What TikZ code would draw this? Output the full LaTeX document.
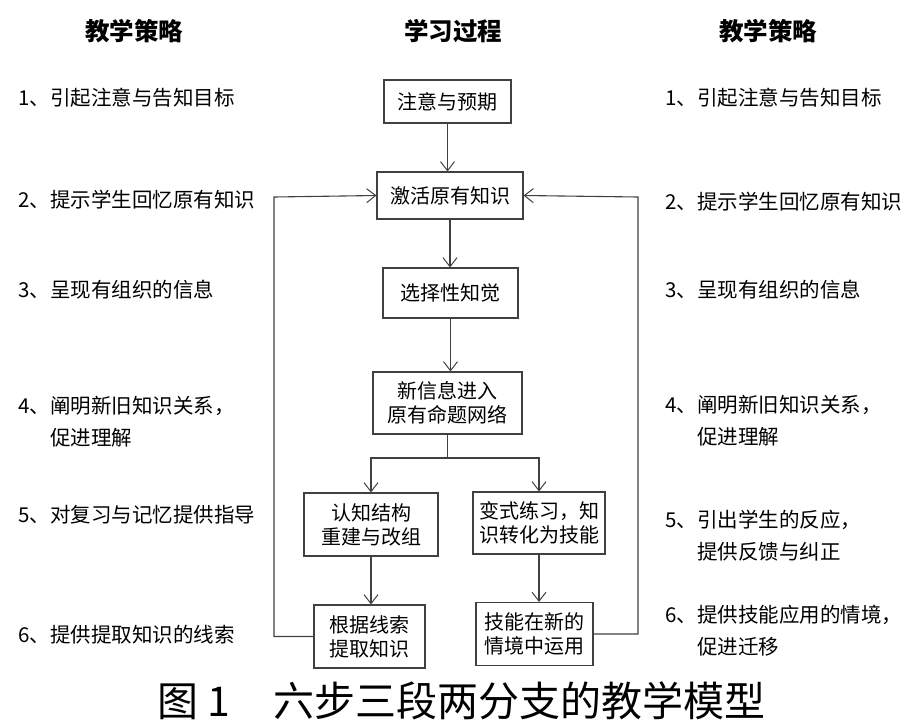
\documentclass[tikz,border=0pt]{standalone}
\usepackage{fontspec}
\setmainfont{Noto Sans CJK SC}
\usetikzlibrary{arrows.meta}

\begin{document}
\begin{tikzpicture}
[
x=1pt,y=-1pt,
stage/.style 2 args={draw=black!75,line width=1.1pt,inner sep=0pt,minimum width=#1,minimum height=#2,align=center,font=\fontsize{20}{24}\selectfont},
strat/.style={anchor=west,inner sep=0pt,align=left,font=\fontsize{20.5}{32}\selectfont},
head/.style={inner sep=0pt,font=\fontsize{24.5}{28}\selectfont\bfseries},
link/.style={draw=black!75,line width=1.1pt},
flow/.style={link,-{Straight Barb[length=9pt,width=14pt,line width=1pt]}},
]
\useasboundingbox (0,0) rectangle (911,721);

%Place the headers
\node[head] (hleft) at (134,31) {教学策略};
\node[head] (hmid) at (453,31) {学习过程};
\node[head] (hright) at (768,31) {教学策略};

%Place the stages
\node[stage={127pt}{43pt}] (attn) at (447.5,101.5) {注意与预期};
\node[stage={146pt}{47pt}] (activ) at (450,195.5) {激活原有知识};
\node[stage={135pt}{50pt}] (select) at (450.5,293) {选择性知觉};
\node[stage={149pt}{62pt}] (newinfo) at (447.5,403) {新信息进入\\原有命题网络};
\node[stage={134pt}{63pt}] (restruct) at (371,524.5) {认知结构\\重建与改组};
\node[stage={132pt}{62pt}] (practice) at (539,523) {变式练习，知\\识转化为技能};
\node[stage={111pt}{63pt}] (retrieve) at (369.5,636.5) {根据线索\\提取知识};
\node[stage={117pt}{63pt}] (apply) at (534.5,634) {技能在新的\\情境中运用};
\coordinate (split) at (447.5,458);
\coordinate (lrail) at (274,197);
\coordinate (rrail) at (638,197);

%Place the strategies
\node[strat] (l1) at (18,98) {1、引起注意与告知目标};
\node[strat] (l2) at (18,200) {2、提示学生回忆原有知识};
\node[strat] (l3) at (18,290) {3、呈现有组织的信息};
\node[strat] (l4) at (18,422) {4、阐明新旧知识关系，\\\phantom{4、}促进理解};
\node[strat] (l5) at (18,515) {5、对复习与记忆提供指导};
\node[strat] (l6) at (18,635) {6、提供提取知识的线索};
\node[strat] (r1) at (665,98) {1、引起注意与告知目标};
\node[strat] (r2) at (665,202) {2、提示学生回忆原有知识};
\node[strat] (r3) at (665,290) {3、呈现有组织的信息};
\node[strat] (r4) at (665,421) {4、阐明新旧知识关系，\\\phantom{4、}促进理解};
\node[strat] (r5) at (665,536) {5、引出学生的反应，\\\phantom{5、}提供反馈与纠正};
\node[strat] (r6) at (665,631) {6、提供技能应用的情境，\\\phantom{6、}促进迁移};

%Caption
\node[anchor=base west,inner sep=0pt,font=\fontsize{41}{44}\selectfont] (caption) at (157,716) {图\hspace{9pt}1\hspace{44pt}六步三段两分支的教学模型};

%Draw the connections
\draw[flow] (attn.south) -- (attn.south |- activ.north);
\draw[flow] (activ.south) -- (activ.south |- select.north);
\draw[flow] (select.south) -- (select.south |- newinfo.north);
\draw[link] (newinfo.south) -- (split);
\draw[flow] (split) -| (restruct.north);
\draw[flow] (split) -| (practice.north);
\draw[flow] (restruct.south) -- (restruct.south |- retrieve.north);
\draw[flow] (practice.south) -- (practice.south |- apply.north);
\draw[flow] (retrieve.west) -| (lrail) -- (activ.west);
\draw[flow] (apply.east) -| (rrail) -- (activ.east);
\end{tikzpicture}
\end{document}
